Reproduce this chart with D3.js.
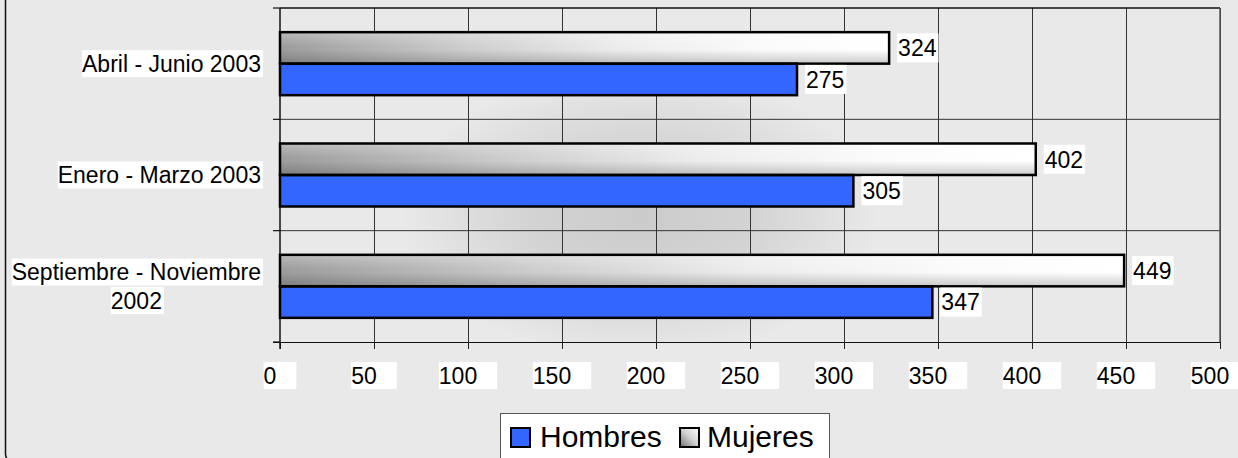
<!DOCTYPE html>
<html>
<head>
<meta charset="utf-8">
<script src="https://cdnjs.cloudflare.com/ajax/libs/d3/7.8.5/d3.min.js"></script>
<style>
  html, body { margin: 0; padding: 0; background: #e9e9e9; }
  svg { display: block; font-family: "Liberation Sans", Arial, sans-serif; }
</style>
</head>
<body>
<svg id="chart" width="1238" height="458"></svg>
<script>
// Periods in chronological order (the first one is drawn at the bottom)
const categories = ["Septiembre - Noviembre 2002", "Enero - Marzo 2003", "Abril - Junio 2003"];
const seriesNames = ["Hombres", "Mujeres"];
const hombres = [347, 305, 275];
const mujeres = [449, 402, 324];
const tickValues = [0, 50, 100, 150, 200, 250, 300, 350, 400, 450, 500];

const svg = d3.select("#chart");
const W = 1238, H = 458;
const plot = { left: 280, right: 1220, top: 8, bottom: 342 };

const defs = svg.append("defs");

// Soft dark glow behind the plot centre
const glow = defs.append("radialGradient").attr("id", "glow")
  .attr("gradientUnits", "userSpaceOnUse")
  .attr("cx", 640).attr("cy", 215).attr("r", 240)
  .attr("gradientTransform", "translate(640,215) scale(1,0.6) translate(-640,-215)");
glow.append("stop").attr("offset", 0).attr("stop-color", "#cbcbcb");
glow.append("stop").attr("offset", 0.45).attr("stop-color", "#d3d3d3");
glow.append("stop").attr("offset", 1).attr("stop-color", "#e9e9e9");

// Grey shading for the Mujeres bars: dark at the left, white towards the right...
const grey = defs.append("linearGradient").attr("id", "greyFill")
  .attr("x1", 0).attr("y1", 0).attr("x2", 1).attr("y2", 0);
[[0, "#9c9c9c"], [0.3, "#cdcdcd"], [0.55, "#ececec"], [0.8, "#fbfbfb"], [1, "#ffffff"]]
  .forEach(([o, c]) => grey.append("stop").attr("offset", o).attr("stop-color", c));

// ...with a lighter top edge and a darker bottom edge
const shade = defs.append("linearGradient").attr("id", "greyShade")
  .attr("x1", 0).attr("y1", 0).attr("x2", 0).attr("y2", 1);
shade.append("stop").attr("offset", 0).attr("stop-color", "#fff").attr("stop-opacity", 0.3);
shade.append("stop").attr("offset", 0.45).attr("stop-color", "#fff").attr("stop-opacity", 0);
shade.append("stop").attr("offset", 0.55).attr("stop-color", "#000").attr("stop-opacity", 0);
shade.append("stop").attr("offset", 1).attr("stop-color", "#000").attr("stop-opacity", 0.2);

const greySwatch = defs.append("linearGradient").attr("id", "greySwatch")
  .attr("x1", 0).attr("y1", 1).attr("x2", 1).attr("y2", 0);
[[0, "#6e6e6e"], [0.5, "#cfcfcf"], [1, "#ffffff"]]
  .forEach(([o, c]) => greySwatch.append("stop").attr("offset", o).attr("stop-color", c));

const colors = { Hombres: "#3366ff", Mujeres: "url(#greyFill)" };

// Chart background and outer frame
svg.append("rect").attr("x", 0).attr("y", 0).attr("width", W).attr("height", H).attr("fill", "#e9e9e9");
svg.append("rect")
  .attr("x", 5.5).attr("y", -20).attr("width", W + 40).attr("height", 482)
  .attr("rx", 8).attr("fill", "none").attr("stroke", "#111").attr("stroke-width", 1.5);

svg.append("rect")
  .attr("x", plot.left).attr("y", plot.top)
  .attr("width", plot.right - plot.left).attr("height", plot.bottom - plot.top)
  .attr("fill", "url(#glow)");

// Scales
const x = d3.scaleLinear().domain([0, 500]).range([plot.left, plot.right]);
const y0 = d3.scaleBand().domain(categories.slice().reverse()).range([plot.top, plot.bottom]);
const y1 = d3.scaleBand().domain(["Mujeres", "Hombres"]).range([0, y0.bandwidth()]).paddingOuter(0.767);

// Vertical gridlines
svg.append("g")
  .attr("transform", `translate(0,${plot.bottom})`)
  .call(d3.axisBottom(x).tickValues(tickValues.slice(1)).tickSize(-(plot.bottom - plot.top)).tickFormat(""))
  .call(g => g.select(".domain").remove())
  .call(g => g.selectAll("line").attr("stroke", "#333").attr("stroke-width", 1));

// Horizontal category separators
svg.append("g").selectAll("line")
  .data(categories.slice(1))
  .join("line")
  .attr("x1", plot.left).attr("x2", plot.right)
  .attr("y1", d => y0(d) + y0.bandwidth()).attr("y2", d => y0(d) + y0.bandwidth())
  .attr("stroke", "#333").attr("stroke-width", 1);

// Plot frame: top and right
svg.append("line").attr("x1", plot.left).attr("x2", plot.right).attr("y1", plot.top).attr("y2", plot.top)
  .attr("stroke", "#111").attr("stroke-width", 1.5);
svg.append("line").attr("x1", plot.right).attr("x2", plot.right).attr("y1", plot.top).attr("y2", plot.bottom)
  .attr("stroke", "#555").attr("stroke-width", 1.5);

// Axes
svg.append("g")
  .attr("transform", `translate(0,${plot.bottom})`)
  .call(d3.axisBottom(x).tickValues(tickValues).tickSize(7).tickSizeOuter(0).tickFormat(""))
  .call(g => g.select(".domain").attr("d", `M${plot.left - 7},0.5H${plot.right}`).attr("stroke", "#111"))
  .call(g => g.selectAll("line").attr("stroke", "#222"));

const catEdges = [plot.top, ...categories.map(c => y0(c) + y0.bandwidth())];
svg.append("g").selectAll("line")
  .data(catEdges)
  .join("line")
  .attr("x1", plot.left - 7).attr("x2", plot.left)
  .attr("y1", d => d).attr("y2", d => d)
  .attr("stroke", "#111").attr("stroke-width", 1.2);
svg.append("line").attr("x1", plot.left).attr("x2", plot.left).attr("y1", plot.top).attr("y2", plot.bottom + 7)
  .attr("stroke", "#111").attr("stroke-width", 1.5);

// Bars: fill, shading for the grey series, then outline
const rows = categories.map((c, i) => ({ cat: c, Hombres: hombres[i], Mujeres: mujeres[i] }));
const groups = svg.append("g").selectAll("g")
  .data(rows)
  .join("g")
  .attr("transform", d => `translate(0,${y0(d.cat)})`);

const barData = d => seriesNames.map(s => ({ s, v: d[s] }));
const barAttrs = sel => sel
  .attr("x", x(0))
  .attr("y", d => y1(d.s))
  .attr("width", d => x(d.v) - x(0))
  .attr("height", y1.bandwidth());

groups.selectAll("rect.fill").data(barData).join("rect").attr("class", "fill")
  .call(barAttrs).attr("fill", d => colors[d.s]);
groups.selectAll("rect.shade").data(d => barData(d).filter(b => b.s === "Mujeres"))
  .join("rect").attr("class", "shade")
  .call(barAttrs).attr("fill", "url(#greyShade)");
groups.selectAll("rect.outline").data(barData).join("rect").attr("class", "outline")
  .call(barAttrs).attr("fill", "none").attr("stroke", "#000").attr("stroke-width", 2.5);

// Value labels on white boxes
const labelFont = 23;
groups.selectAll("g.val")
  .data(barData)
  .join("g").attr("class", "val")
  .each(function (d) {
    const g = d3.select(this);
    const cy = y1(d.s) + y1.bandwidth() / 2;
    const bx = x(d.v) + 8;
    const bg = g.append("rect").attr("fill", "#fff");
    const t = g.append("text").text(d.v)
      .attr("x", bx + 1).attr("y", cy).attr("dy", "0.36em")
      .attr("font-size", labelFont).attr("fill", "#000");
    const w = t.node().getComputedTextLength();
    bg.attr("x", bx).attr("y", cy - 14.5).attr("width", w + 3).attr("height", 29);
  });

// Category labels, wrapped and centred on their block, right-aligned to the axis
const catLayer = svg.append("g");
categories.forEach(c => {
  const words = c.split(" ");
  const probe = catLayer.append("text").attr("font-size", labelFont);
  const lines = [];
  let cur = [];
  words.forEach(wd => {
    const trial = cur.concat(wd).join(" ");
    probe.text(trial);
    if (probe.node().getComputedTextLength() > 260 && cur.length) {
      lines.push(cur.join(" "));
      cur = [wd];
    } else cur.push(wd);
  });
  lines.push(cur.join(" "));
  const widths = lines.map(l => { probe.text(l); return probe.node().getComputedTextLength(); });
  probe.remove();
  const maxW = d3.max(widths);
  const cx = 261 - maxW / 2;
  const lh = 28.5;
  const mid = y0(c) + y0.bandwidth() / 2;
  lines.forEach((l, i) => {
    const cy = mid + (i - (lines.length - 1) / 2) * lh;
    catLayer.append("rect").attr("fill", "#fff")
      .attr("x", cx - widths[i] / 2).attr("y", cy - 13.5)
      .attr("width", widths[i] + 2).attr("height", 27);
    catLayer.append("text").text(l)
      .attr("x", cx).attr("y", cy).attr("dy", "0.36em")
      .attr("text-anchor", "middle").attr("font-size", labelFont).attr("fill", "#000");
  });
});

// X tick labels on white boxes
const tickLayer = svg.append("g");
tickValues.forEach(v => {
  const t = tickLayer.append("text").text(v).attr("font-size", labelFont).attr("fill", "#000");
  const w = t.node().getComputedTextLength();
  const bw = w + 20;
  const bx = x(v) - bw / 2;
  tickLayer.insert("rect", "text").attr("fill", "#fff")
    .attr("x", bx).attr("y", 362).attr("width", bw).attr("height", 27);
  t.attr("x", bx).attr("y", 375.5).attr("dy", "0.36em");
});

// Legend
const legend = svg.append("g");
legend.append("rect").attr("x", 500.5).attr("y", 413.5).attr("width", 329).attr("height", 60)
  .attr("fill", "#fff").attr("stroke", "#555").attr("stroke-width", 1);
const legendItems = [
  { s: "Hombres", sx: 510, tx: 540, fill: "#3366ff" },
  { s: "Mujeres", sx: 679, tx: 707, fill: "url(#greySwatch)" }
];
legendItems.forEach(it => {
  legend.append("rect").attr("x", it.sx + 1).attr("y", 428).attr("width", 19).attr("height", 19)
    .attr("fill", it.fill).attr("stroke", "#000").attr("stroke-width", 2);
  legend.append("text").text(it.s).attr("x", it.tx).attr("y", 446.5)
    .attr("font-size", 30).attr("fill", "#000");
});
</script>
</body>
</html>
